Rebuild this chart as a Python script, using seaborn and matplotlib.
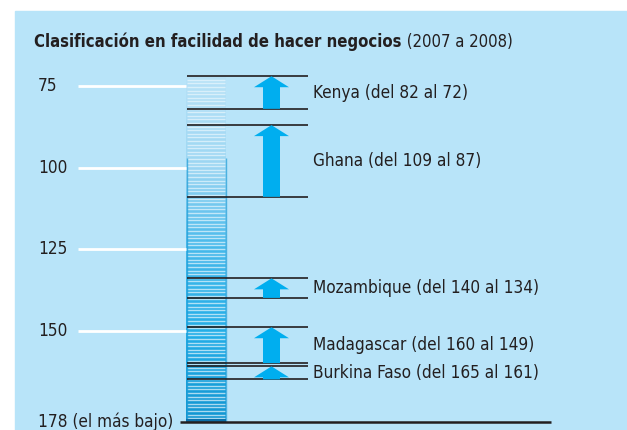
import numpy as np
import matplotlib.pyplot as plt
from matplotlib.patches import Rectangle, Polygon
import seaborn as sns

# Datos: clasificación Doing Business (rango antes -> después)
COUNTRIES = ["Kenya", "Ghana", "Mozambique", "Madagascar", "Burkina Faso"]
RANK_2007 = [82, 109, 140, 160, 165]
RANK_2008 = [72, 87, 134, 149, 161]
TICK_RANKS = [75, 100, 125, 150, 178]
TICK_LABELS = ["75", "100", "125", "150", "178 (el más bajo)"]
LOWEST = 178

PANEL = "#b8e4f9"
ARROW = "#00aeef"
INK = "#231f20"
PX_PER_RANK = 3.26

sns.set_theme(style="white")
plt.rcParams["font.family"] = ["DejaVu Sans"]
plt.rcParams["font.stretch"] = "condensed"

fig = plt.figure(figsize=(6.27, 4.30), dpi=100)
fig.patch.set_facecolor("white")

ax = fig.add_axes([0, 0, 1, 1])
ax.set_facecolor("none")
ax.set_xlim(0, 627)
# eje y en unidades de rango, invertido (el mejor arriba)
ax.set_ylim(75 + 344 / PX_PER_RANK, 75 - 86 / PX_PER_RANK)
ax.axis("off")

# panel azul claro de fondo
ax.add_patch(Rectangle((15 / 627, 0), 1 - 15 / 627, 419 / 430,
                       transform=ax.transAxes, color=PANEL, zorder=0))

# Columna rayada con degradado
top = min(RANK_2008)
band = 3.6 / PX_PER_RANK
edges = np.arange(top, LOWEST, band)
colors = sns.blend_palette(["#b6e1f7", "#9cd6f2", "#45b8ea", "#22ade7", "#1195d1"], len(edges))
ax.barh(edges + band / 2, 40, left=186, height=band, color=colors, linewidth=0, zorder=1)
ax.hlines(edges[1:], 187, 225, color="#eaf7fd", alpha=0.7, lw=1.0, zorder=2)
ax.vlines([186.5, 225.5], top + 25, LOWEST, color="#1e9cd6", lw=1, alpha=0.7, zorder=2)
ax.barh(LOWEST - 0.4, 40, left=186, height=0.8, color="#0b6ea8", linewidth=0, zorder=2)

# Marcas del eje (líneas blancas + etiquetas)
for r, lab in zip(TICK_RANKS, TICK_LABELS):
    ax.text(38, r, lab, ha="left", va="center", fontsize=12.3, color=INK)
    if r != LOWEST:
        ax.hlines(r, 78, 186, color="white", lw=2, zorder=2)
ax.hlines(LOWEST, 180, 551, color=INK, lw=1.8, zorder=3)

# Flechas y líneas por país
hl = 11 / PX_PER_RANK
xc = 271.5
for name, old, new in zip(COUNTRIES, RANK_2007, RANK_2008):
    ax.hlines([old, new], 187, 308, color=INK, lw=1.2, zorder=3)
    verts = [(xc - 8.5, old), (xc - 8.5, new + hl), (xc - 17.5, new + hl), (xc, new),
             (xc + 17.5, new + hl), (xc + 8.5, new + hl), (xc + 8.5, old)]
    ax.add_patch(Polygon(verts, closed=True, color=ARROW, linewidth=0, zorder=4))
    ax.text(313, (old + new) / 2, f"{name} (del {old} al {new})", ha="left", va="center",
            fontsize=12.3, color=INK)

# Título
t_px = 42
t_rank = 75 + (t_px - 86) / PX_PER_RANK
t1 = ax.text(34, t_rank, "Clasificación en facilidad de hacer negocios", ha="left",
             va="center", fontsize=12, fontweight="bold", color=INK)
ax.annotate(" (2007 a 2008)", xy=(1, 0), xycoords=t1, ha="left", va="bottom",
            fontsize=12, color=INK)

fig.savefig("out.png", dpi=100)
